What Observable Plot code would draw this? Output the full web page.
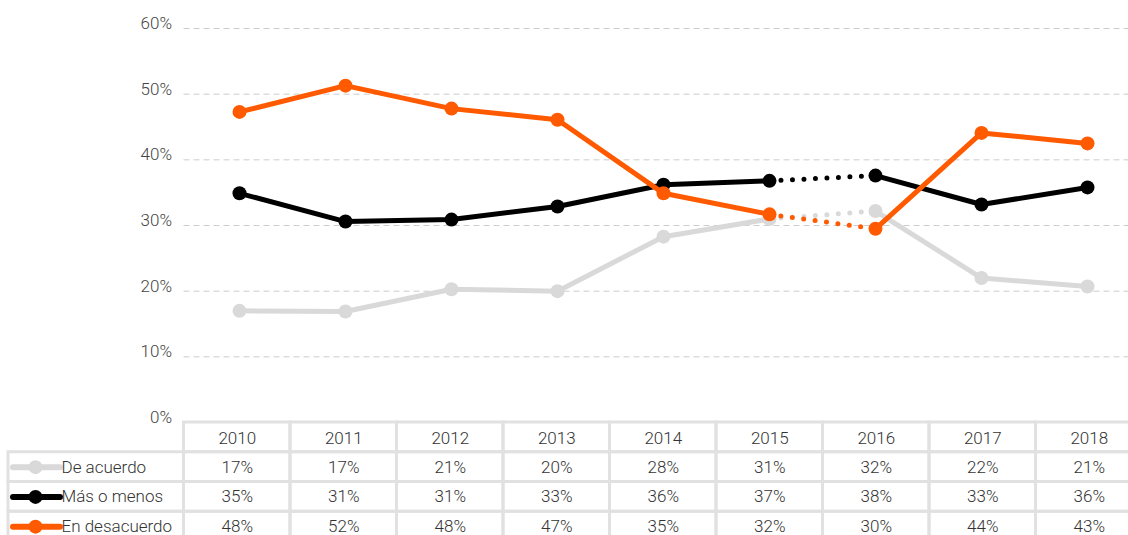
<!DOCTYPE html>
<html>
<head>
<meta charset="utf-8">
<script src="https://cdn.jsdelivr.net/npm/d3@7"></script>
<script src="https://cdn.jsdelivr.net/npm/@observablehq/plot@0.6"></script>
<style>
  html, body { margin: 0; padding: 0; background: #fff; overflow: hidden; }
  #wrap { position: relative; width: 1128px; height: 535px; overflow: hidden; }
  #wrap svg { position: absolute; left: 0; overflow: visible; }
</style>
</head>
<body>
<div id="wrap"></div>
<script>
// ---- Data ----
const years = [2010, 2011, 2012, 2013, 2014, 2015, 2016, 2017, 2018];
const seriesNames = ["De acuerdo", "Más o menos", "En desacuerdo"];
const deAcuerdo    = [17.0, 16.9, 20.3, 20.0, 28.3, 31.0, 32.2, 22.0, 20.7];
const masOMenos    = [34.9, 30.6, 30.9, 32.9, 36.2, 36.8, 37.6, 33.2, 35.8];
const enDesacuerdo = [47.3, 51.3, 47.8, 46.1, 34.9, 31.7, 29.5, 44.1, 42.5];
const deAcuerdoLabels    = ["17%", "17%", "21%", "20%", "28%", "31%", "32%", "22%", "21%"];
const masOMenosLabels    = ["35%", "31%", "31%", "33%", "36%", "37%", "38%", "33%", "36%"];
const enDesacuerdoLabels = ["48%", "52%", "48%", "47%", "35%", "32%", "30%", "44%", "43%"];
const yTicks = [0, 10, 20, 30, 40, 50, 60];
const gapStart = 2015, gapEnd = 2016; // dotted (interrupted) segment
const seriesColors = ["#d9d9d9", "#000000", "#ff5a00"];

// ---- Layout ----
const W = 1128;
const plotLeft = 183.5;          // left edge of first year column
const colW = 106.5;              // width of a year column
const plotRight = plotLeft + years.length * colW; // extends past the page edge
const px = p => (p - plotLeft) / colW; // pixel -> table column units

// ---- Build tables ----
const seriesValues = [deAcuerdo, masOMenos, enDesacuerdo];
const seriesLabels = [deAcuerdoLabels, masOMenosLabels, enDesacuerdoLabels];
const long = [];
seriesNames.forEach((s, i) => years.forEach((yr, j) => long.push({
  series: s, year: yr, value: seriesValues[i][j], label: seriesLabels[i][j],
  seg: yr <= gapStart ? "a" : "b", row: i + 1, col: j
})));

const font = "Roboto, 'Helvetica Neue', 'Liberation Sans', Arial, sans-serif";
const textColor = "#333";

// ---- Chart ----
const lineMarks = [];
seriesNames.forEach((s, i) => {
  const d = long.filter(r => r.series === s);
  lineMarks.push(
    Plot.line(d, {x: "year", y: "value", z: "seg", stroke: seriesColors[i], strokeWidth: 5, strokeLinejoin: "round"}),
    Plot.line(d.filter(r => r.year >= gapStart && r.year <= gapEnd),
      {x: "year", y: "value", stroke: seriesColors[i], strokeWidth: 5, strokeDasharray: "0,11.5", strokeLinecap: "round"}),
    Plot.dot(d, {x: "year", y: "value", fill: seriesColors[i], r: 7})
  );
});

const chart = Plot.plot({
  width: W, height: 424,
  marginTop: 28, marginBottom: 2, marginLeft: plotLeft, marginRight: 0,
  style: {background: "transparent", fontFamily: font, fontSize: "17px", fontWeight: 300, overflow: "visible"},
  x: {type: "point", domain: years, padding: 0.5, range: [plotLeft, plotRight], axis: null},
  y: {domain: [0, 60], axis: null},
  marks: [
    Plot.ruleY(yTicks.filter(t => t > 0), {stroke: "#cccccc", strokeWidth: 1, strokeDasharray: "6,4"}),
    Plot.text(yTicks, {y: d => d, text: d => d + "%", frameAnchor: "left", textAnchor: "end", dx: -12, dy: -5, fill: "#444"}),
    ...lineMarks
  ]
});
chart.style.top = "0px";
document.getElementById("wrap").appendChild(chart);

// ---- Data table ----
const labelColLeft = px(8);
const cells = [];
years.forEach((yr, j) => cells.push({x1: j, x2: j + 1, y1: 0, y2: 1}));
long.forEach(r => cells.push({x1: r.col, x2: r.col + 1, y1: r.row, y2: r.row + 1}));
seriesNames.forEach((s, i) => cells.push({x1: labelColLeft, x2: 0, y1: i + 1, y2: i + 2}));
const header = years.map((yr, j) => ({col: j, text: String(yr)}));
const legendRows = seriesNames.map((s, i) => ({name: s, row: i + 1, color: seriesColors[i]}));

const table = Plot.plot({
  width: W, height: 124,
  margin: 0,
  style: {background: "transparent", fontFamily: font, fontSize: "17px", fontWeight: 300, overflow: "visible"},
  x: {type: "linear", domain: [px(0), px(W)], range: [0, W], axis: null},
  y: {type: "linear", domain: [0, 4], range: [2, 121], axis: null},
  marks: [
    Plot.rect(cells, {x1: "x1", x2: "x2", y1: "y1", y2: "y2", fill: "none", stroke: "#e1e1e1", strokeWidth: 3}),
    Plot.text(header, {x: d => d.col + 0.5, y: 0.5, dy: 1, text: "text", fill: textColor}),
    Plot.text(long, {x: d => d.col + 0.5, y: d => d.row + 0.5, text: "label", fill: textColor}),
    Plot.ruleY(legendRows, {y: d => d.row + 0.5, x1: px(13), x2: px(60), stroke: "color", strokeWidth: 6, strokeLinecap: "round"}),
    Plot.dot(legendRows, {x: px(35), y: d => d.row + 0.5, fill: "color", r: 7}),
    Plot.text(legendRows, {x: px(61), y: d => d.row + 0.5, text: "name", textAnchor: "start", fill: textColor})
  ]
});
table.style.top = "420px";
document.getElementById("wrap").appendChild(table);
</script>
</body>
</html>
